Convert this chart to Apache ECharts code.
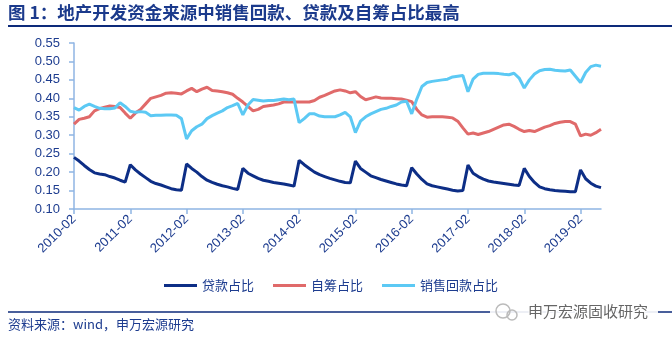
<!DOCTYPE html>
<html>
<head>
<meta charset="utf-8">
<script src="https://cdn.jsdelivr.net/npm/echarts@6/dist/echarts.min.js"></script>
<style>
html,body{margin:0;padding:0;background:#fff;}
#c{width:672px;height:340px;}
</style>
</head>
<body>
<div id="c"></div>
<script>
var years = [2010,2011,2012,2013,2014,2015,2016,2017,2018,2019];
var months = ['02','03','04','05','06','07','08','09','10','11','12'];
var lastYearMonths = ['02','03','04','05','06'];

var loan2010 = [0.240,0.230,0.218,0.207,0.198,0.195,0.193,0.188,0.184,0.178,0.173];
var loan2011 = [0.220,0.206,0.195,0.185,0.175,0.169,0.165,0.160,0.155,0.152,0.151];
var loan2012 = [0.222,0.210,0.200,0.188,0.178,0.172,0.167,0.163,0.160,0.156,0.153];
var loan2013 = [0.210,0.197,0.190,0.183,0.178,0.175,0.172,0.170,0.168,0.165,0.162];
var loan2014 = [0.232,0.220,0.210,0.200,0.193,0.188,0.183,0.179,0.175,0.172,0.171];
var loan2015 = [0.230,0.210,0.200,0.190,0.185,0.180,0.176,0.172,0.168,0.165,0.163];
var loan2016 = [0.212,0.195,0.180,0.168,0.163,0.160,0.157,0.154,0.151,0.149,0.150];
var loan2017 = [0.219,0.197,0.188,0.181,0.176,0.173,0.171,0.169,0.167,0.165,0.164];
var loan2018 = [0.210,0.188,0.172,0.160,0.155,0.152,0.150,0.149,0.148,0.147,0.147];
var loan2019 = [0.206,0.182,0.170,0.162,0.158];

var self2010 = [0.330,0.343,0.346,0.350,0.366,0.372,0.376,0.379,0.378,0.375,0.360];
var self2011 = [0.346,0.360,0.370,0.385,0.400,0.404,0.408,0.414,0.415,0.414,0.412];
var self2012 = [0.420,0.427,0.418,0.425,0.430,0.421,0.420,0.418,0.415,0.411,0.400];
var self2013 = [0.390,0.378,0.366,0.370,0.378,0.380,0.382,0.385,0.390,0.390,0.390];
var self2014 = [0.390,0.390,0.390,0.394,0.403,0.408,0.414,0.420,0.423,0.420,0.415];
var self2015 = [0.418,0.405,0.396,0.400,0.404,0.401,0.400,0.400,0.399,0.398,0.395];
var self2016 = [0.391,0.370,0.355,0.349,0.350,0.350,0.350,0.349,0.347,0.338,0.320];
var self2017 = [0.303,0.306,0.302,0.306,0.310,0.316,0.322,0.328,0.330,0.324,0.316];
var self2018 = [0.310,0.313,0.310,0.316,0.322,0.326,0.332,0.335,0.337,0.337,0.330];
var self2019 = [0.298,0.303,0.300,0.307,0.316];

var sales2010 = [0.375,0.368,0.378,0.384,0.378,0.373,0.372,0.372,0.374,0.388,0.378];
var sales2011 = [0.365,0.362,0.364,0.362,0.353,0.354,0.354,0.355,0.355,0.354,0.345];
var sales2012 = [0.290,0.312,0.323,0.330,0.345,0.353,0.360,0.366,0.375,0.380,0.386];
var sales2013 = [0.355,0.382,0.397,0.395,0.393,0.394,0.394,0.396,0.398,0.396,0.398];
var sales2014 = [0.334,0.345,0.358,0.358,0.352,0.350,0.350,0.350,0.355,0.362,0.350];
var sales2015 = [0.307,0.338,0.350,0.358,0.364,0.370,0.373,0.378,0.382,0.390,0.392];
var sales2016 = [0.358,0.398,0.432,0.443,0.446,0.448,0.450,0.452,0.458,0.460,0.462];
var sales2017 = [0.418,0.452,0.465,0.468,0.468,0.468,0.467,0.465,0.464,0.468,0.455];
var sales2018 = [0.428,0.450,0.466,0.475,0.478,0.479,0.476,0.475,0.474,0.477,0.460];
var sales2019 = [0.443,0.470,0.486,0.490,0.487];

var seriesNames = ['贷款占比','自筹占比','销售回款占比'];
var titleText = '图 1：地产开发资金来源中销售回款、贷款及自筹占比最高';
var sourceText = '资料来源：wind，申万宏源研究';
var watermarkText = '申万宏源固收研究';

var categories = [];
years.forEach(function(y, i){
  var ms = (i === years.length - 1) ? lastYearMonths : months;
  ms.forEach(function(m){ categories.push(y + '-' + m); });
});
var loan = [].concat(loan2010,loan2011,loan2012,loan2013,loan2014,loan2015,loan2016,loan2017,loan2018,loan2019);
var selfRaised = [].concat(self2010,self2011,self2012,self2013,self2014,self2015,self2016,self2017,self2018,self2019);
var sales = [].concat(sales2010,sales2011,sales2012,sales2013,sales2014,sales2015,sales2016,sales2017,sales2018,sales2019);

var NAVY_TEXT = '#1d3c8f';
var AXIS = '#8fb5e3';
var colors = ['#0d2e86', '#e06a6a', '#5cc9f4'];

function mk(name, data, color){
  return {
    name: name, type: 'line', data: data, symbol: 'none', smooth: false,
    lineStyle: {width: 3, color: color}, itemStyle: {color: color}
  };
}

var chart = echarts.init(document.getElementById('c'), null, {renderer: 'canvas'});
chart.setOption({
  animation: false,
  backgroundColor: '#fff',
  color: colors,
  grid: {left: 74, right: 71, top: 43, bottom: 131, containLabel: false},
  legend: {
    data: seriesNames,
    left: 159, top: 274,
    itemWidth: 33, itemHeight: 3, itemGap: 19,
    icon: 'rect',
    textStyle: {color: NAVY_TEXT, fontSize: 13, fontFamily: '"Noto Sans CJK SC", sans-serif'}
  },
  xAxis: {
    type: 'category', data: categories, boundaryGap: false,
    axisLine: {lineStyle: {color: AXIS, width: 1.5}},
    axisTick: {show: true, length: 5, lineStyle: {color: AXIS, width: 1.5},
      interval: function(idx){ return idx % 11 === 0; }},
    axisLabel: {
      interval: function(idx){ return idx % 11 === 0; },
      rotate: 45, color: NAVY_TEXT, fontSize: 13, margin: 8,
      fontFamily: '"Liberation Sans", Arial, sans-serif'
    },
    splitLine: {show: false}
  },
  yAxis: {
    type: 'value', min: 0.1, max: 0.55, interval: 0.05,
    axisLine: {show: true, lineStyle: {color: AXIS, width: 1.5}},
    axisTick: {show: true, length: 5, lineStyle: {color: AXIS, width: 1.5}},
    axisLabel: {color: NAVY_TEXT, fontSize: 13, margin: 14,
      fontFamily: '"Liberation Sans", Arial, sans-serif',
      formatter: function(v){ return v.toFixed(2); }},
    splitLine: {show: false}
  },
  series: [
    mk(seriesNames[0], loan, colors[0]),
    mk(seriesNames[1], selfRaised, colors[1]),
    mk(seriesNames[2], sales, colors[2])
  ],
  graphic: [
    {type: 'text', left: 8, top: 4, style: {text: titleText, fill: '#1b3a8c',
      font: 'bold 17.5px "Noto Sans CJK SC", sans-serif'}},
    {type: 'line', shape: {x1: 8, y1: 26, x2: 672, y2: 26}, style: {stroke: '#0d2a7a', lineWidth: 2}},
    {type: 'line', shape: {x1: 8, y1: 312, x2: 672, y2: 312}, style: {stroke: '#0d2a7a', lineWidth: 1.5}},
    {type: 'text', left: 8, top: 318, style: {text: sourceText, fill: NAVY_TEXT,
      font: '13px "Noto Sans CJK SC", sans-serif'}},
    {type: 'rect', shape: {x: 490, y: 302, width: 168, height: 20}, style: {fill: 'rgba(255,255,255,0.9)'}},
    {type: 'circle', shape: {cx: 503, cy: 311, r: 7}, style: {fill: 'none', stroke: '#bbb', lineWidth: 1.5}},
    {type: 'circle', shape: {cx: 512, cy: 315, r: 5}, style: {fill: 'none', stroke: '#bbb', lineWidth: 1.5}},
    {type: 'text', left: 527, top: 303, style: {text: watermarkText, fill: '#666',
      font: '15px "Noto Sans CJK SC", sans-serif', stroke: '#fff', lineWidth: 2}}
  ]
});
</script>
</body>
</html>
